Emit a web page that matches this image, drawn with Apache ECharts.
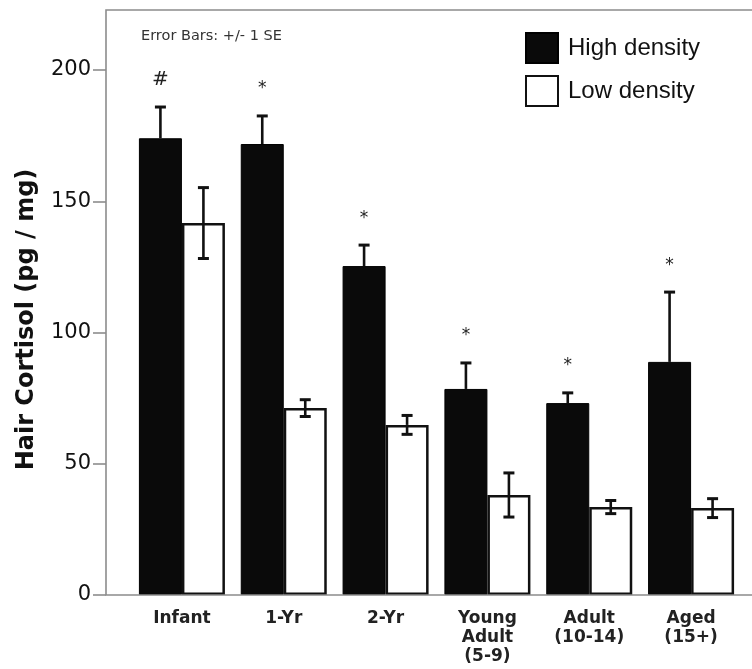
<!DOCTYPE html>
<html>
<head>
    <meta charset="UTF-8">
    <title>Hair Cortisol</title>
    <script src="https://cdn.jsdelivr.net/npm/echarts@6/dist/echarts.min.js"></script>
</head>
<body style="margin:0">
<div id="chart" style="width:752px; height:669px;"></div>
<script>
    // values
    var categories = ['Infant', '1-Yr', '2-Yr', 'Young\nAdult\n(5-9)', 'Adult\n(10-14)', 'Aged\n(15+)'];
    var highDensity = [174, 171.8, 125.3, 78.5, 73.1, 88.8];
    var highSE = [11.9, 10.7, 8.0, 9.9, 3.9, 26.6];
    var lowDensity = [141.7, 71.2, 64.8, 38.1, 33.5, 33.1];
    var lowSE = [13.5, 3.2, 3.6, 8.4, 2.5, 3.6];
    var marks = ['#', '*', '*', '*', '*', '*'];
    var yTicks = [0, 50, 100, 150, 200];

    var chart = echarts.init(document.getElementById('chart'), null, {renderer: 'canvas'});

    var barW = 43;
    var gridLeft = 131, gridTop = 10, gridBottom = 74, axisOffset = 25;
    var frameColor = '#8c8c8c';

    // error bars (+ significance marks) drawn on top of the bars
    function errorSeries(name, values, se, side, withMarks) {
        return {
            type: 'custom',
            name: name,
            z: 5,
            silent: true,
            clip: false,
            data: values.map(function (v, i) { return [i, v - se[i], v + se[i], v]; }),
            renderItem: function (params, api) {
                var lo = api.coord([api.value(0), api.value(1)]);
                var hi = api.coord([api.value(0), api.value(2)]);
                var mid = api.coord([api.value(0), api.value(3)]);
                var x = lo[0] + side * barW / 2;
                var cap = {stroke: '#111', lineWidth: 3};
                var kids = [
                    {type: 'line', shape: {x1: x, y1: hi[1], x2: x, y2: mid[1]}, style: {stroke: '#111', lineWidth: 2.6}},
                    {type: 'line', shape: {x1: x - 5.5, y1: hi[1], x2: x + 5.5, y2: hi[1]}, style: cap}
                ];
                if (withMarks) {
                    var m = marks[params.dataIndex];
                    kids.push({
                        type: 'text',
                        style: {
                            text: m, x: x, y: hi[1] - 27,
                            align: 'center', verticalAlign: 'middle',
                            fill: '#222',
                            font: (m === '#' ? '20px' : '17px') + ' "DejaVu Sans"'
                        }
                    });
                } else {
                    // lower whisker only visible on the white bars
                    kids.push({type: 'line', shape: {x1: x, y1: mid[1], x2: x, y2: lo[1]}, style: {stroke: '#111', lineWidth: 2.6}});
                    kids.push({type: 'line', shape: {x1: x - 5.5, y1: lo[1], x2: x + 5.5, y2: lo[1]}, style: cap});
                }
                return {type: 'group', children: kids};
            }
        };
    }

    var option = {
        backgroundColor: '#fff',
        animation: false,
        title: {
            text: 'Error Bars: +/- 1 SE',
            left: 141,
            top: 29,
            padding: 0,
            textStyle: {fontFamily: 'DejaVu Sans', fontSize: 14.5, fontWeight: 'normal', color: '#333'}
        },
        legend: {
            data: ['High density', 'Low density'],
            orient: 'vertical',
            left: 525,
            top: 32,
            padding: 0,
            icon: 'rect',
            itemWidth: 32,
            itemHeight: 30,
            itemGap: 11,
            textStyle: {fontFamily: 'Liberation Sans', fontSize: 24, color: '#111', padding: [0, 0, 0, 5]}
        },
        grid: {left: gridLeft, right: 10, top: gridTop, bottom: gridBottom},
        graphic: [{
            type: 'rect',
            z: 10,
            shape: {x: gridLeft - axisOffset, y: gridTop, width: 760, height: 669 - gridBottom - gridTop},
            style: {fill: 'none', stroke: frameColor, lineWidth: 1.6}
        }],
        xAxis: {
            type: 'category',
            data: categories,
            axisLine: {show: false},
            axisTick: {alignWithLabel: true, length: 10, lineStyle: {color: frameColor, width: 1.6}},
            axisLabel: {
                margin: 14,
                fontFamily: 'DejaVu Sans',
                fontWeight: 'bold',
                fontSize: 17,
                lineHeight: 19,
                color: '#222'
            }
        },
        yAxis: {
            type: 'value',
            min: 0,
            max: 222.86,
            offset: axisOffset,
            name: 'Hair Cortisol (pg / mg)',
            nameLocation: 'middle',
            nameGap: 67,
            nameTextStyle: {
                fontFamily: 'DejaVu Sans',
                fontWeight: 'bold',
                fontSize: 24,
                color: '#111',
                padding: [0, 34, 0, 0]
            },
            splitLine: {show: false},
            axisLine: {show: false},
            axisTick: {show: true, length: 13, customValues: yTicks, lineStyle: {color: frameColor, width: 1.6}},
            axisLabel: {
                customValues: yTicks,
                margin: 15,
                fontFamily: 'DejaVu Sans',
                fontSize: 21,
                color: '#111'
            }
        },
        series: [
            {
                name: 'High density',
                type: 'bar',
                barWidth: barW,
                barGap: '0%',
                data: highDensity,
                itemStyle: {color: '#0a0a0a', borderColor: '#000', borderWidth: 1}
            },
            {
                name: 'Low density',
                type: 'bar',
                barWidth: barW,
                barGap: '0%',
                data: lowDensity,
                itemStyle: {color: '#fff', borderColor: '#111', borderWidth: 2.5}
            },
            errorSeries('High SE', highDensity, highSE, -1, true),
            errorSeries('Low SE', lowDensity, lowSE, 1, false)
        ]
    };
    chart.setOption(option);
</script>
</body>
</html>
